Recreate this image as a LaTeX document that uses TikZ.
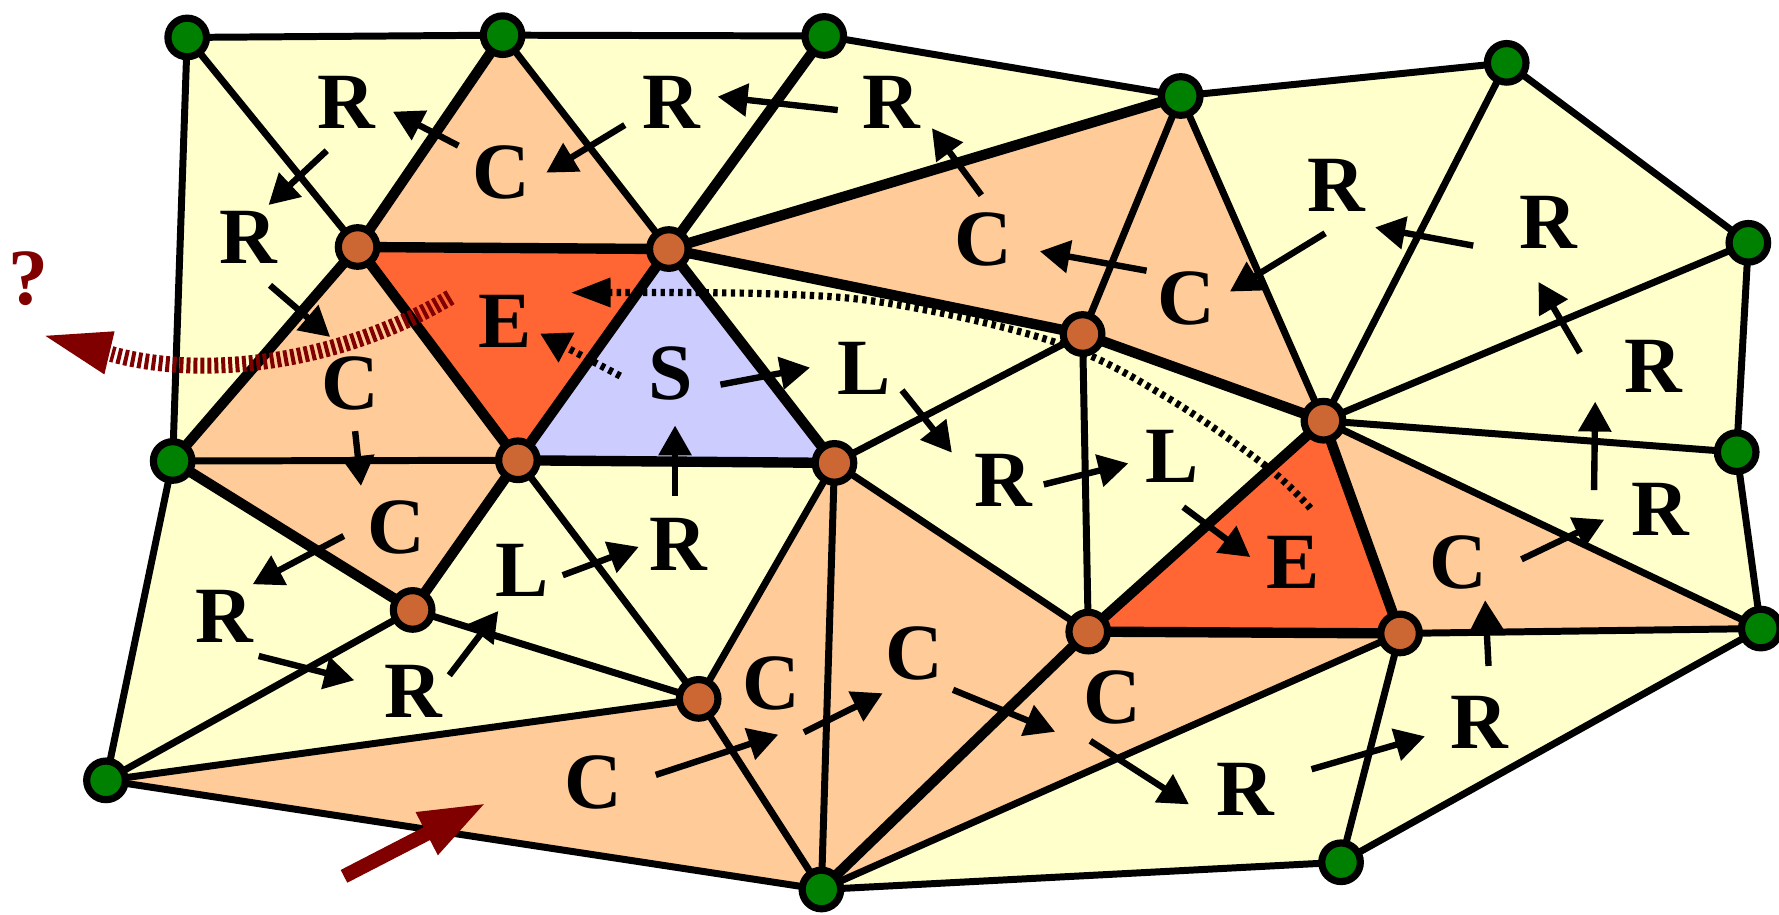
\documentclass[tikz,border=0pt]{standalone}
\usepackage{fontspec}
\setmainfont{Liberation Serif}
\usetikzlibrary{arrows.meta}
\definecolor{meshyellow}{HTML}{FFFFCC}
\definecolor{meshpeach}{HTML}{FFCC99}
\definecolor{meshred}{HTML}{FF6633}
\definecolor{meshlav}{HTML}{CCCCFF}
\definecolor{vorange}{HTML}{CC6633}
\definecolor{vgreen}{HTML}{008000}
\definecolor{darkred}{HTML}{800000}
\tikzset{
  thinedge/.style={line width=1.75pt, line cap=round},
  thickedge/.style={line width=2.6pt, line cap=round},
  arr/.style={line width=1.6pt, -{Triangle[length=7.5pt,width=8pt]}},
  redarr/.style={darkred, line width=3.6pt, -{Triangle[length=16.8pt,width=11pt]}},
  dotline/.style={line width=1.8pt, dash pattern=on 1.1pt off 1.1pt},
  reddash/.style={darkred, line width=4pt, dash pattern=on 1pt off 0.75pt},
  lab/.style={font=\fontsize{20}{24}\selectfont\bfseries, inner sep=0pt},
  vtx/.style={circle, draw=black, line width=1.8pt, minimum size=0.34cm, inner sep=0pt},
  gv/.style={vtx, fill=vgreen},
  ov/.style={vtx, fill=vorange}
}
\begin{document}
\begin{tikzpicture}[x=0.01cm, y=-0.01cm]
\useasboundingbox (0,0) rectangle (1568,806);
% vertex positions
\coordinate (g1) at (165,33);
\coordinate (g2) at (443,31);
\coordinate (g3) at (726.5,31.7);
\coordinate (g4) at (1040.7,84.6);
\coordinate (g5) at (1328,55.4);
\coordinate (g6) at (1541,214);
\coordinate (g7) at (1530.7,398.5);
\coordinate (g8) at (1552,554);
\coordinate (g9) at (1182,760);
\coordinate (g10) at (724,784);
\coordinate (g11) at (93.4,687.8);
\coordinate (g12) at (152.2,406.3);
\coordinate (o1) at (315.2,217.7);
\coordinate (o2) at (589.5,219.5);
\coordinate (o3) at (456.5,405.7);
\coordinate (o4) at (735.5,408);
\coordinate (o5) at (954.2,294.4);
\coordinate (o6) at (1166.5,370.8);
\coordinate (o7) at (959.2,556.7);
\coordinate (o8) at (1234,558.3);
\coordinate (o9) at (363.7,537.6);
\coordinate (o10) at (615.8,616);
% faces
\fill[meshyellow] (g1)--(g2)--(g3)--(g4)--(g5)--(g6)--(g7)--(g8)--(g9)--(g10)--(g11)--(g12)--cycle;
\fill[meshpeach] (g2)--(o1)--(o2)--cycle;
\fill[meshpeach] (g4)--(o2)--(o5)--cycle;
\fill[meshpeach] (g4)--(o5)--(o6)--cycle;
\fill[meshpeach] (g8)--(o6)--(o8)--cycle;
\fill[meshpeach] (g10)--(o7)--(o8)--cycle;
\fill[meshpeach] (o4)--(o7)--(g10)--cycle;
\fill[meshpeach] (g12)--(o1)--(o3)--cycle;
\fill[meshpeach] (g12)--(o3)--(o9)--cycle;
\fill[meshpeach] (g11)--(o10)--(g10)--cycle;
\fill[meshpeach] (o10)--(o4)--(g10)--cycle;
\fill[meshred] (o1)--(o2)--(o3)--cycle;
\fill[meshred] (o6)--(o7)--(o8)--cycle;
\fill[meshlav] (o2)--(o3)--(o4)--cycle;
% boundary edges
\draw[thinedge, line join=round] (g1)--(g2)--(g3)--(g4)--(g5)--(g6)--(g7)--(g8)--(g9)--(g10)--(g11)--(g12)--cycle;
% thin interior edges
\draw[thinedge] (g1)--(o1);
\draw[thinedge] (g2)--(o2);
\draw[thinedge] (g4)--(o5);
\draw[thinedge] (g4)--(o6);
\draw[thinedge] (g5)--(o6);
\draw[thinedge] (g6)--(o6);
\draw[thinedge] (g7)--(o6);
\draw[thinedge] (g8)--(o6);
\draw[thinedge] (g8)--(o8);
\draw[thinedge] (g9)--(o8);
\draw[thinedge] (g10)--(o8);
\draw[thinedge] (g10)--(o4);
\draw[thinedge] (g10)--(o10);
\draw[thinedge] (g11)--(o10);
\draw[thinedge] (g11)--(o9);
\draw[thinedge] (g12)--(o3);
\draw[thinedge] (o3)--(o10);
\draw[thinedge] (o9)--(o10);
\draw[thinedge] (o4)--(o10);
\draw[thinedge] (o4)--(o5);
\draw[thinedge] (o4)--(o7);
\draw[thinedge] (o5)--(o7);
% thick interior edges
\draw[thickedge] (g2)--(o1);
\draw[thickedge] (g3)--(o2);
\draw[thickedge] (g4)--(o2);
\draw[thickedge] (g12)--(o1);
\draw[thickedge] (g12)--(o9);
\draw[thickedge] (g10)--(o7);
\draw[thickedge] (o1)--(o2);
\draw[thickedge] (o1)--(o3);
\draw[thickedge] (o2)--(o3);
\draw[thickedge] (o2)--(o4);
\draw[thickedge] (o3)--(o4);
\draw[thickedge] (o3)--(o9);
\draw[thickedge] (o2)--(o5);
\draw[thickedge] (o5)--(o6);
\draw[thickedge] (o6)--(o7);
\draw[thickedge] (o6)--(o8);
\draw[thickedge] (o7)--(o8);
% dotted traversal curves
\coordinate (ds) at (1155,448);
\coordinate (de) at (503,258);
\draw[dotline, -{Triangle[length=10pt,width=7pt]}] plot[smooth, tension=0.6] coordinates {(1155,448) (1116,411) (1028,350) (934,303) (793,269) (680,259) (503,258)};
\coordinate (sds) at (546.7,331.4);
\coordinate (sde) at (476,294);
\draw[dotline, -{Triangle[length=7.5pt,width=8pt]}] (sds) -- (sde);
% red dashed escape curve
\coordinate (rcs) at (397,262);
\coordinate (rcm) at (98,312);
\coordinate (rct) at (40,296);
\draw[reddash] (rcs) .. controls (300,320) and (180,335) .. (rcm);
\fill[darkred] (rct) -- (101,292) -- (92,330) -- cycle;
% red entry arrow
\coordinate (ras) at (303.2,772.4);
\coordinate (rae) at (428.6,707.7);
\draw[redarr] (ras) -- (rae);
% labels
\node[lab] (r1) at (305,90) {R};
\node[lab] (c1) at (442,152) {C};
\node[lab] (r2) at (592,90) {R};
\node[lab] (r3) at (786,90) {R};
\node[lab] (c2) at (867,211) {C};
\node[lab] (r4) at (1178,163) {R};
\node[lab] (c3) at (1046,263) {C};
\node[lab] (r5) at (1365,196) {R};
\node[lab] (r6) at (1457,323) {R};
\node[lab] (r7) at (1463,449) {R};
\node[lab] (c4) at (1285,496) {C};
\node[lab] (r8) at (1304,637) {R};
\node[lab] (r9) at (1098,696) {R};
\node[lab] (c5) at (980,615) {C};
\node[lab] (e2) at (1140,496) {E};
\node[lab] (l2) at (1033,402) {L};
\node[lab] (r10) at (884,423) {R};
\node[lab] (c6) at (806,576) {C};
\node[lab] (l1) at (762,325) {L};
\node[lab] (s) at (591,329) {S};
\node[lab] (e1) at (445,283) {E};
\node[lab] (c7) at (309,338) {C};
\node[lab] (r11) at (219,209) {R};
\node[lab] (c8) at (349,465) {C};
\node[lab] (l3) at (460,503) {L};
\node[lab] (r12) at (598,480) {R};
\node[lab] (r13) at (198,543) {R};
\node[lab] (r14) at (364,609) {R};
\node[lab] (c9) at (523,690) {C};
\node[lab] (c10) at (680,602) {C};
\node[lab, text=darkred] (q) at (25,246) {?};
% arrow end points
\coordinate (a1s) at (404,128.4);   \coordinate (a1e) at (346.3,98.4);
\coordinate (a2s) at (288,132.8);   \coordinate (a2e) at (236.7,180.7);
\coordinate (a3s) at (550.7,110.2); \coordinate (a3e) at (481.5,152.2);
\coordinate (a4s) at (738.4,97);    \coordinate (a4e) at (632.5,85.2);
\coordinate (a5s) at (865,172);     \coordinate (a5e) at (821.4,113);
\coordinate (a6s) at (1010.6,238.6);\coordinate (a6e) at (916.5,221.5);
\coordinate (a7s) at (1168,205.6);  \coordinate (a7e) at (1084,257);
\coordinate (a8s) at (1298.5,216.5);\coordinate (a8e) at (1212,200.4);
\coordinate (a9s) at (1392.6,311);  \coordinate (a9e) at (1356,248.5);
\coordinate (a10s) at (1405,432);   \coordinate (a10e) at (1406,354);
\coordinate (a11s) at (1341,493);   \coordinate (a11e) at (1414,458);
\coordinate (a12s) at (1312,587);   \coordinate (a12e) at (1309,529);
\coordinate (a13s) at (1156,678);   \coordinate (a13e) at (1256,649);
\coordinate (a14s) at (961,653);    \coordinate (a14e) at (1048,709);
\coordinate (a15s) at (840,608);    \coordinate (a15e) at (930,645);
\coordinate (a16s) at (708.6,645.4);\coordinate (a16e) at (778,611);
\coordinate (a17s) at (578,683);    \coordinate (a17e) at (686,647.5);
\coordinate (a19s) at (1043,447);   \coordinate (a19e) at (1102,491);
\coordinate (a20s) at (920,427);    \coordinate (a20e) at (994.5,408.4);
\coordinate (a21s) at (795,344);    \coordinate (a21e) at (839,399);
\coordinate (a22s) at (635,339);    \coordinate (a22e) at (714,324);
\coordinate (a23s) at (595,437);    \coordinate (a23e) at (595,375);
\coordinate (a24s) at (496,507);    \coordinate (a24e) at (563,482);
\coordinate (a25s) at (396,595.2);  \coordinate (a25e) at (439.2,538.5);
\coordinate (a26s) at (228,578.2);  \coordinate (a26e) at (312.3,599.6);
\coordinate (a27s) at (303,472.4);  \coordinate (a27e) at (222.7,515);
\coordinate (a28s) at (313,380);    \coordinate (a28e) at (318.2,428.3);
\coordinate (a29s) at (238,251.5);  \coordinate (a29e) at (291,297);
\foreach \i in {1,...,17,19,20,...,29} {\draw[arr] (a\i s) -- (a\i e);}
% vertices
\node[gv] (vg1) at (g1) {};
\node[gv] (vg2) at (g2) {};
\node[gv] (vg3) at (g3) {};
\node[gv] (vg4) at (g4) {};
\node[gv] (vg5) at (g5) {};
\node[gv] (vg6) at (g6) {};
\node[gv] (vg7) at (g7) {};
\node[gv] (vg8) at (g8) {};
\node[gv] (vg9) at (g9) {};
\node[gv] (vg10) at (g10) {};
\node[gv] (vg11) at (g11) {};
\node[gv] (vg12) at (g12) {};
\node[ov] (vo1) at (o1) {};
\node[ov] (vo2) at (o2) {};
\node[ov] (vo3) at (o3) {};
\node[ov] (vo4) at (o4) {};
\node[ov] (vo5) at (o5) {};
\node[ov] (vo6) at (o6) {};
\node[ov] (vo7) at (o7) {};
\node[ov] (vo8) at (o8) {};
\node[ov] (vo9) at (o9) {};
\node[ov] (vo10) at (o10) {};
\end{tikzpicture}
\end{document}
